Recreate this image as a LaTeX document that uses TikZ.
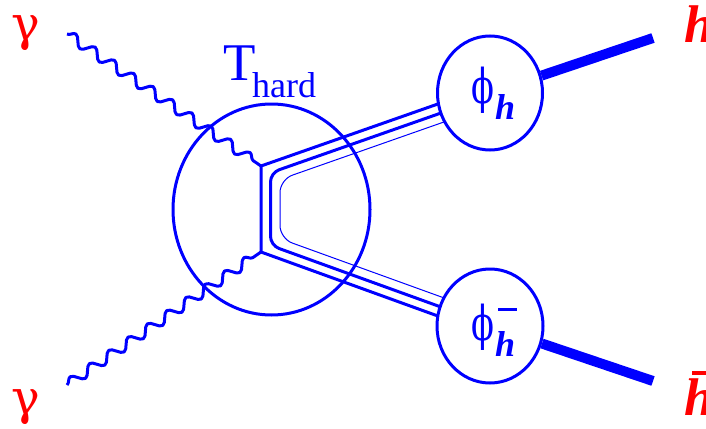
\documentclass[tikz,border=0pt]{standalone}
\usepackage{fontspec}
\setmainfont{Liberation Serif}
\newfontfamily\greekfont{DejaVu Serif}
\usetikzlibrary{decorations.pathmorphing,shapes.geometric}
\definecolor{fblue}{RGB}{0,0,255}
\definecolor{fred}{RGB}{255,0,0}
\begin{document}
\begin{tikzpicture}[x=1pt,y=-1pt,
  photon/.style={draw=fblue,line width=3pt,line join=round,decorate,
    decoration={snake,segment length=23.4pt,amplitude=5pt}},
  quark/.style={draw=fblue,line width=3pt},
  thinq/.style={draw=fblue,line width=1pt},
  blob/.style={draw=fblue,line width=3pt,ellipse,inner sep=0pt},
  hadron/.style={draw=fblue,line width=10pt},
  biglab/.style={inner sep=0pt,font=\fontsize{53}{53}\selectfont},
  greeklab/.style={inner sep=0pt,font=\greekfont\fontsize{48}{48}\selectfont},
  sublab/.style={inner sep=0pt,anchor=base west,text=fblue,
    font=\fontsize{36}{36}\selectfont\bfseries\itshape},
  outlab/.style={inner sep=0pt,anchor=base west,text=fred,
    font=\fontsize{53}{53}\selectfont\bfseries\itshape}]
\useasboundingbox (0,0) rectangle (706,428);

% vertices and end points
\coordinate (v1) at (261,166);
\coordinate (v2) at (261,252);
\coordinate (g1) at (67,34);
\coordinate (g2) at (67,385);
\coordinate (oa) at (455,98.0);
\coordinate (ob) at (455,322.2);
\coordinate (ma) at (455,108.1);
\coordinate (m1) at (270.5,172.8);
\coordinate (m2) at (270.5,245.4);
\coordinate (mb) at (455,312.1);
\coordinate (ta) at (455,118.1);
\coordinate (t1) at (280,179.5);
\coordinate (t2) at (280,238.6);
\coordinate (tb) at (455,301.9);
\coordinate (hend) at (653,38);
\coordinate (hbend) at (653,381);

% photons
\draw[photon] (g1) -- (v1);
\draw[photon] (g2) -- (v2);

% hard part
\node[blob,minimum width=197pt,minimum height=211pt] (thard) at (271.5,209.5) {};

% quark lines
\draw[quark] (oa) -- (v1) -- (v2) -- (ob);
\draw[quark,rounded corners=9pt] (ma) -- (m1) -- (m2) -- (mb);
\draw[thinq,rounded corners=13pt] (ta) -- (t1) -- (t2) -- (tb);

% distribution amplitudes
\node[blob,fill=white,minimum width=105pt,minimum height=114pt] (phih) at (490,93) {};
\node[blob,fill=white,minimum width=106pt,minimum height=114pt] (phihb) at (490,326) {};

% outgoing hadrons
\draw[hadron] (phih) -- (hend);
\draw[hadron] (phihb) -- (hbend);

% labels
\node[greeklab,text=fred] (gam1) at (25.5,33) {γ};
\node[greeklab,text=fred] (gam2) at (25.5,407) {γ};
\node[biglab,text=fblue,anchor=base west] (tlab) at (223,80) {T};
\node[inner sep=0pt,anchor=base west,text=fblue,font=\fontsize{36}{36}\selectfont] (hardlab) at (252,97) {hard};
\node[greeklab,text=fblue] (phil1) at (482.5,90) {\scalebox{0.7}[1]{ϕ}};
\node[sublab] (hsub1) at (495,119) {h};
\node[greeklab,text=fblue] (phil2) at (482.5,327) {\scalebox{0.7}[1]{ϕ}};
\node[fill=fblue,inner sep=0pt,minimum width=19pt,minimum height=2.5pt] (minus) at (507.5,309.5) {};
\node[sublab] (hsub2) at (495,356) {h};
\node[outlab] (hout) at (684,42) {h};
\node[outlab] (hbout) at (684,415) {\rlap{\hspace{8pt}\rule[40.5pt]{25pt}{3.5pt}}h};
\end{tikzpicture}
\end{document}
